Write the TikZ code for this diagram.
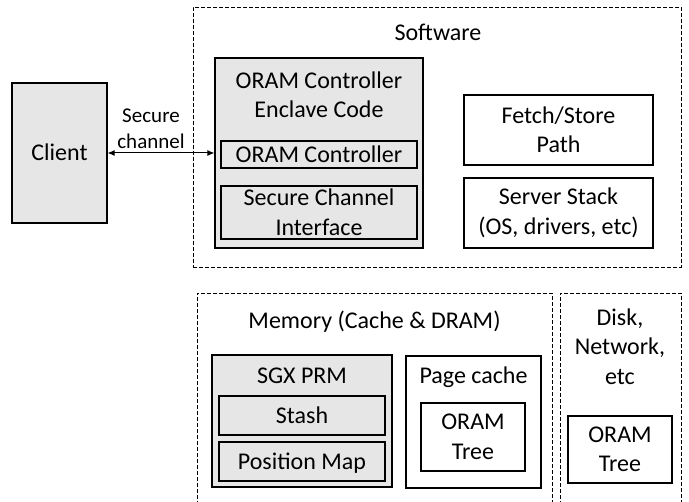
\documentclass[tikz,border=0pt]{standalone}
\usepackage{fontspec}
\setmainfont{Carlito}
\usetikzlibrary{arrows.meta}
\definecolor{boxgray}{RGB}{231,230,230}
\begin{document}
\begin{tikzpicture}[x=1pt,y=-1pt,
  every node/.style={font=\fontsize{24}{29.5}\selectfont, align=center},
  box/.style={draw, line width=1.1pt, inner sep=0pt},
  graybox/.style={box, fill=boxgray},
  txt/.style={inner sep=0pt},
  oneline/.style={text height=15.5pt, text depth=0pt},
  container/.style={draw, line width=0.9pt, dash pattern=on 4pt off 2pt},
  biarrow/.style={{Latex[length=7pt,width=6pt]}-{Latex[length=7pt,width=6pt]}, line width=1pt},
]
\useasboundingbox (0,0) rectangle (689,502);

% Software container
\node[container, minimum width=488pt, minimum height=260pt] (sw) at (437,137) {};
\node[txt, oneline] (swlabel) at (438,33) {Software};

% Client
\node[graybox, minimum width=95pt, minimum height=140pt, oneline] (client) at (59.5,153) {Client};

% Enclave
\node[graybox, minimum width=208pt, minimum height=190pt] (enclave) at (319,153) {};
\node[txt] (enctitle) at (319,95) {ORAM Controller\\Enclave Code};
\node[graybox, minimum width=196pt, minimum height=27pt, oneline] (ctrl) at (319,154.5) {ORAM Controller};
\node[graybox, minimum width=196pt, minimum height=53pt] (sci) at (319,212.5) {Secure Channel\\Interface};

% Right software boxes
\node[box, minimum width=189pt, minimum height=70pt] (fetch) at (558.5,130) {Fetch/Store\\Path};
\node[box, minimum width=189pt, minimum height=70pt] (stack) at (558.5,213) {Server Stack\\(OS, drivers, etc)};

% Secure channel arrow
\draw[biarrow] (client.east) -- (client.east -| enclave.west);
\node[txt, font=\fontsize{21}{26}\selectfont] (sclabel) at (151,129) {Secure\\channel};

% Memory container
\coordinate (memBL) at (197,505);
\coordinate (memTR) at (552,293);
\draw[container] (memBL) |- (memTR) -- (memTR |- memBL);
\node[txt, oneline] (memlabel) at (374.5,321) {Memory (Cache \& DRAM)};

% Disk container
\coordinate (diskBL) at (560,505);
\coordinate (diskTR) at (681,293);
\draw[container] (diskBL) |- (diskTR) -- (diskTR |- diskBL);
\node[txt] (disklabel) at (620,346.5) {Disk,\\Network,\\etc};

% SGX PRM
\node[graybox, minimum width=180pt, minimum height=132pt] (prm) at (302,421) {};
\node[txt, oneline] (prmlabel) at (302,375.5) {SGX PRM};
\node[graybox, minimum width=166pt, minimum height=39pt, oneline] (stash) at (302,415.5) {Stash};
\node[graybox, minimum width=166pt, minimum height=39pt, oneline] (posmap) at (302,461.5) {Position Map};

% Page cache
\node[box, minimum width=135pt, minimum height=132pt] (pcache) at (473.5,422) {};
\node[txt, oneline] (pclabel) at (473.5,376) {Page cache};
\node[box, minimum width=104pt, minimum height=68pt] (tree1) at (473,437) {ORAM\\Tree};

% Disk ORAM tree
\node[box, minimum width=104pt, minimum height=67pt] (tree2) at (620,449.5) {ORAM\\Tree};
\end{tikzpicture}
\end{document}
